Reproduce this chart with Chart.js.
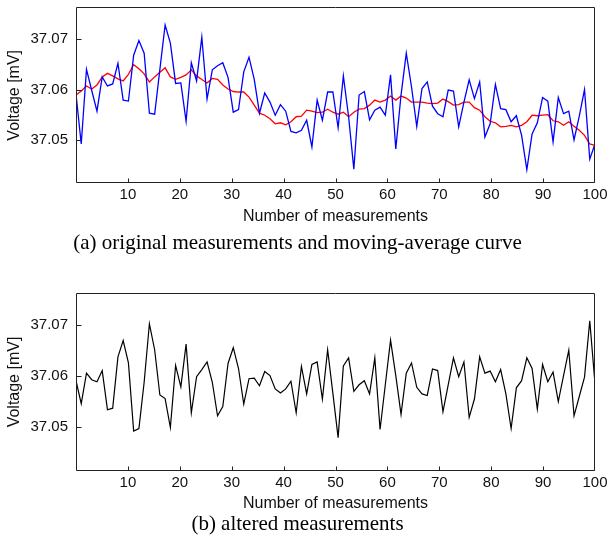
<!DOCTYPE html>
<html>
<head>
<meta charset="utf-8">
<script src="https://cdn.jsdelivr.net/npm/chart.js@4"></script>
<style>
  body { margin: 0; background: #fff; }
  canvas { position: absolute; left: 0; }
  #chart-a { top: 0; }
  #chart-b { top: 271px; }
</style>
</head>
<body>
<canvas id="chart-a" width="611" height="262"></canvas>
<canvas id="chart-b" width="611" height="272"></canvas>
<script>
var original = [
    37.0591, 37.0492, 37.0640, 37.0598, 37.0557, 37.0625, 37.0607, 37.0611, 37.0652, 37.0579,
    37.0577, 37.0668, 37.0697, 37.0672, 37.0553, 37.0551, 37.0640, 37.0728, 37.0692, 37.0612,
    37.0613, 37.0537, 37.0653, 37.0617, 37.0704, 37.0581, 37.0639, 37.0647, 37.0653, 37.0624,
    37.0555, 37.0560, 37.0635, 37.0664, 37.0620, 37.0553, 37.0593, 37.0575, 37.0549, 37.0570,
    37.0557, 37.0517, 37.0514, 37.0519, 37.0539, 37.0486, 37.0579, 37.0539, 37.0595, 37.0595,
    37.0524, 37.0627, 37.0546, 37.0442, 37.0589, 37.0596, 37.0540, 37.0559, 37.0565, 37.0549,
    37.0629, 37.0482, 37.0589, 37.0672, 37.0605, 37.0527, 37.0602, 37.0615, 37.0567, 37.0552,
    37.0546, 37.0599, 37.0597, 37.0526, 37.0575, 37.0619, 37.0582, 37.0615, 37.0506, 37.0532,
    37.0610, 37.0562, 37.0560, 37.0536, 37.0548, 37.0509, 37.0441, 37.0512, 37.0534, 37.0584,
    37.0577, 37.0496, 37.0584, 37.0552, 37.0557, 37.0500, 37.0547, 37.0600, 37.0462, 37.0492
];
var moving_avg = [
    37.0589, 37.0597, 37.0607, 37.0601, 37.0609, 37.0625, 37.0632, 37.0627, 37.0621, 37.0617,
    37.0630, 37.0649, 37.0641, 37.0631, 37.0615, 37.0625, 37.0634, 37.0643, 37.0625, 37.0620,
    37.0624, 37.0629, 37.0639, 37.0627, 37.0620, 37.0613, 37.0622, 37.0620, 37.0609, 37.0601,
    37.0596, 37.0595, 37.0595, 37.0585, 37.0569, 37.0553, 37.0549, 37.0542, 37.0532, 37.0534,
    37.0530, 37.0536, 37.0546, 37.0547, 37.0559, 37.0557, 37.0554, 37.0555, 37.0561, 37.0555,
    37.0551, 37.0555, 37.0546, 37.0555, 37.0561, 37.0562, 37.0569, 37.0579, 37.0575, 37.0579,
    37.0587, 37.0579, 37.0587, 37.0583, 37.0575, 37.0575, 37.0575, 37.0573, 37.0572, 37.0573,
    37.0581, 37.0576, 37.0569, 37.0570, 37.0575, 37.0575, 37.0564, 37.0559, 37.0546, 37.0537,
    37.0534, 37.0526, 37.0527, 37.0529, 37.0526, 37.0529, 37.0536, 37.0549, 37.0548, 37.0549,
    37.0550, 37.0538, 37.0536, 37.0529, 37.0536, 37.0527, 37.0519, 37.0509, 37.0492, 37.0489
];
var altered = [
    37.0591, 37.0546, 37.0606, 37.0593, 37.0589, 37.0611, 37.0534, 37.0537, 37.0638, 37.0670,
    37.0626, 37.0492, 37.0497, 37.0588, 37.0703, 37.0652, 37.0563, 37.0556, 37.0499, 37.0621,
    37.0579, 37.0663, 37.0528, 37.0599, 37.0613, 37.0628, 37.0588, 37.0522, 37.0540, 37.0625,
    37.0656, 37.0615, 37.0545, 37.0595, 37.0596, 37.0581, 37.0609, 37.0601, 37.0575, 37.0567,
    37.0575, 37.0590, 37.0528, 37.0619, 37.0565, 37.0623, 37.0628, 37.0555, 37.0652, 37.0566,
    37.0479, 37.0620, 37.0636, 37.0570, 37.0583, 37.0591, 37.0565, 37.0636, 37.0495, 37.0583,
    37.0671, 37.0601, 37.0525, 37.0606, 37.0626, 37.0578, 37.0565, 37.0562, 37.0614, 37.0611,
    37.0530, 37.0583, 37.0636, 37.0599, 37.0628, 37.0519, 37.0555, 37.0638, 37.0606, 37.0610,
    37.0589, 37.0613, 37.0565, 37.0497, 37.0577, 37.0591, 37.0636, 37.0615, 37.0535, 37.0623,
    37.0589, 37.0608, 37.0550, 37.0601, 37.0651, 37.0522, 37.0560, 37.0598, 37.0709, 37.0585
];

var x_ticks = [10, 20, 30, 40, 50, 60, 70, 80, 90, 100];
var y_ticks = [37.05, 37.06, 37.07];

// the 100 samples are spread evenly over the 0..100 axis
var x_pos = [];
for (var i = 0; i < original.length; i++) {
    x_pos.push(i * 100 / (original.length - 1));
}

var sans = "'Liberation Sans', Arial, sans-serif";
var serif = "'Liberation Serif', 'Times New Roman', serif";

// box round the plot and short ticks pointing inward
var framePlugin = {
    id: 'frame',
    afterDraw: function (chart) {
        var ctx = chart.ctx;
        var a = chart.chartArea;
        var xs = chart.scales.x;
        var ys = chart.scales.y;
        var l = Math.round(a.left) + 0.5;
        var r = Math.round(a.right) - 0.5;
        var t = Math.round(a.top) + 0.5;
        var b = Math.round(a.bottom) - 0.5;
        ctx.save();
        ctx.strokeStyle = '#222';
        ctx.lineWidth = 1;
        ctx.beginPath();
        ctx.moveTo(l, t);
        ctx.lineTo(r, t);
        ctx.lineTo(r, b);
        ctx.lineTo(l, b);
        ctx.closePath();
        x_ticks.forEach(function (v) {
            var px = Math.round(xs.getPixelForValue(v)) + 0.5;
            if (v === 100) px = r;
            ctx.moveTo(px, b);
            ctx.lineTo(px, b - 4);
        });
        y_ticks.forEach(function (v) {
            var py = Math.round(ys.getPixelForValue(v)) + 0.5;
            ctx.moveTo(l, py);
            ctx.lineTo(l + 5, py);
        });
        ctx.stroke();
        ctx.restore();
    }
};

function makeChart(id, datasets, caption, padTop, xHeight, capPad) {
    return new Chart(document.getElementById(id), {
        type: 'line',
        data: {
            labels: x_pos,
            datasets: datasets
        },
        plugins: [framePlugin],
        options: {
            responsive: false,
            animation: false,
            layout: { padding: { top: padTop, right: 16, bottom: 0, left: 0 } },
            elements: { point: { radius: 0 }, line: { tension: 0 } },
            plugins: {
                legend: { display: false },
                tooltip: { enabled: false },
                title: {
                    display: true,
                    position: 'bottom',
                    text: caption,
                    color: '#000',
                    font: { family: serif, size: 21, weight: 'normal', lineHeight: 1 },
                    padding: capPad
                }
            },
            scales: {
                x: {
                    type: 'linear',
                    min: 0,
                    max: 100,
                    grid: { display: false, drawTicks: false },
                    border: { display: false },
                    ticks: { color: '#111', padding: 3, font: { family: sans, size: 15 } },
                    title: {
                        display: true,
                        text: 'Number of measurements',
                        color: '#111',
                        font: { family: sans, size: 16, lineHeight: 1 },
                        padding: { top: 0, bottom: 0 }
                    },
                    afterBuildTicks: function (s) {
                        s.ticks = x_ticks.map(function (v) { return { value: v }; });
                    },
                    afterFit: function (s) {
                        s.height = xHeight;
                        s.paddingLeft = 0;
                        s.paddingRight = 0;
                    }
                },
                y: {
                    min: 37.0414,
                    max: 37.0763,
                    grid: { display: false, drawTicks: false },
                    border: { display: false },
                    ticks: {
                        color: '#111',
                        padding: 8,
                        font: { family: sans, size: 15 },
                        callback: function (v) { return v.toFixed(2); }
                    },
                    title: {
                        display: true,
                        text: 'Voltage [mV]',
                        color: '#111',
                        font: { family: sans, size: 16, lineHeight: 1 },
                        padding: { top: 7, bottom: 0 }
                    },
                    afterBuildTicks: function (s) {
                        s.ticks = y_ticks.map(function (v) { return { value: v }; });
                    },
                    afterFit: function (s) {
                        s.width = 76;
                        s.paddingTop = 0;
                        s.paddingBottom = 0;
                    }
                }
            }
        }
    });
}

makeChart('chart-a', [
    { data: original, borderColor: '#0000ff', borderWidth: 1.3 },
    { data: moving_avg, borderColor: '#ff0000', borderWidth: 1.3 }
], '(a) original measurements and moving-average curve', 7.3, 41.7, { top: 8, bottom: 8 });

makeChart('chart-b', [
    { data: altered, borderColor: '#000000', borderWidth: 1.2 }
], '(b) altered measurements', 22.3, 40.8, { top: 2, bottom: 8.5 });
</script>
</body>
</html>
